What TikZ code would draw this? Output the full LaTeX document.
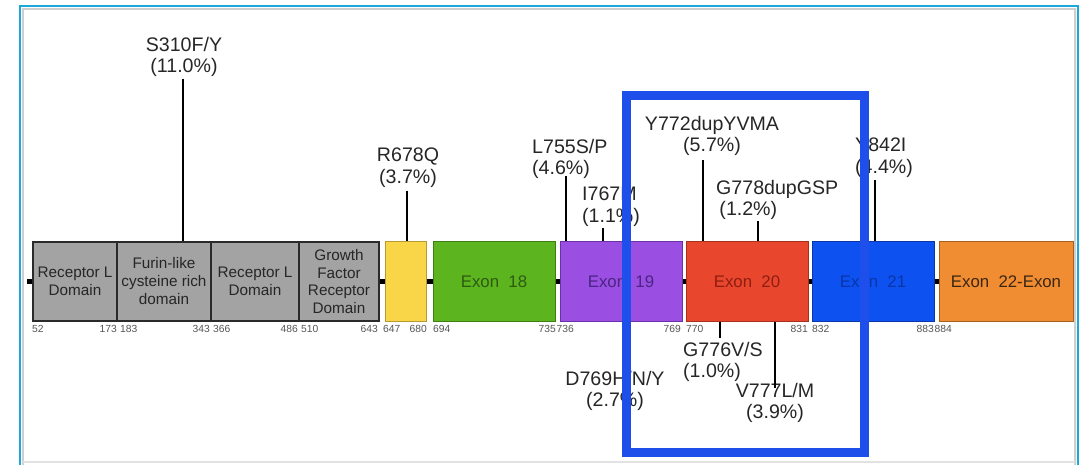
\documentclass[tikz,border=0pt]{standalone}
\usepackage{fontspec}
\setmainfont{Liberation Sans}
\definecolor{grayfill}{HTML}{A3A3A3}
\definecolor{grayedge}{HTML}{2A2A2A}
\definecolor{yelfill}{HTML}{F8D648}
\definecolor{yeledge}{HTML}{B89A30}
\definecolor{grnfill}{HTML}{5CB51E}
\definecolor{grnedge}{HTML}{3E7E12}
\definecolor{grntext}{HTML}{2E5A12}
\definecolor{purfill}{HTML}{9B4FE2}
\definecolor{puredge}{HTML}{6A30A8}
\definecolor{purtext}{HTML}{4A2484}
\definecolor{redfill}{HTML}{E9462E}
\definecolor{rededge}{HTML}{A8301E}
\definecolor{redtext}{HTML}{8E1E12}
\definecolor{blufill}{HTML}{0D52F0}
\definecolor{bluedge}{HTML}{0A36A8}
\definecolor{blutext}{HTML}{0A35A8}
\definecolor{orgfill}{HTML}{F08C32}
\definecolor{orgedge}{HTML}{A8601E}
\definecolor{orgtext}{HTML}{3C2612}
\definecolor{numtext}{HTML}{555555}
\definecolor{lbltext}{HTML}{262626}
\definecolor{hlblue}{HTML}{1E4FEA}
\definecolor{framecyan}{HTML}{1CA8D8}
\definecolor{shadowgray}{HTML}{CFCFCF}
\tikzset{
  dombox/.style={draw=grayedge, fill=grayfill, line width=1.6pt, minimum height=79pt,
    inner sep=1pt, align=center, text=lbltext, font=\fontsize{15.3}{18}\selectfont},
  exbox/.style={draw, line width=1pt, minimum height=79pt, inner sep=1pt,
    font=\fontsize{16.8}{19}\selectfont},
  backbone/.style={line width=5pt, black},
  stem/.style={line width=2.4pt, black},
  mut/.style={text=lbltext, font=\fontsize{19.6}{21.8}\selectfont, inner sep=0pt},
  num/.style={text=numtext, font=\fontsize{10.3}{11}\selectfont, inner sep=0pt},
  hlframe/.style={draw=hlblue, line width=9pt, minimum width=238pt, minimum height=356pt}
}
\begin{document}
\begin{tikzpicture}[x=1pt,y=-1pt]
\useasboundingbox (0,0) rectangle (1087,465);
% outer frame
\draw[shadowgray, line width=2pt] (23,470) -- (23,9) -- (1075,9) -- (1075,470);
\draw[shadowgray!60, line width=1.5pt] (23,462) -- (1075,462);
\draw[framecyan, line width=2pt] (20,470) -- (20,6) -- (1078,6) -- (1078,470);

% domain boxes
\node[dombox, minimum width=84pt] (d1) at (75,281.5) {Receptor L\\Domain};
\node[dombox, minimum width=94pt] (d2) at (164,281.5) {Furin-like\\cysteine rich\\domain};
\node[dombox, minimum width=88pt] (d3) at (255,281.5) {Receptor L\\Domain};
\node[dombox, minimum width=80pt, font=\fontsize{15.3}{17.5}\selectfont] (d4) at (339,281.5) {Growth\\Factor\\Receptor\\Domain};
\node[exbox, draw=yeledge, fill=yelfill, minimum width=41pt] (yel) at (405.5,281.5) {};
\node[exbox, draw=grnedge, fill=grnfill, text=grntext, minimum width=122pt] (e18) at (494,281.5) {Exon\ \ 18};
\node[exbox, draw=puredge, fill=purfill, text=purtext, minimum width=122pt] (e19) at (621,281.5) {Exon\ \ 19};
\node[exbox, draw=rededge, fill=redfill, text=redtext, minimum width=122pt] (e20) at (747,281.5) {Exon\ \ 20};
\node[exbox, draw=bluedge, fill=blufill, text=blutext, minimum width=122pt] (e21) at (873,281.5) {Exon\ \ 21};
\node[exbox, draw=orgedge, fill=orgfill, text=orgtext, minimum width=134pt] (e22) at (1006,281.5) {Exon\ \ 22-Exon};

% backbone segments
\coordinate (bbL) at (27,281.5);
\draw[backbone] (bbL) -- (d1.west);
\draw[backbone] (d4.east) -- (yel.west);
\draw[backbone] (yel.east) -- (e18.west);
\draw[backbone] (e18.east) -- (e19.west);
\draw[backbone] (e19.east) -- (e20.west);
\draw[backbone] (e20.east) -- (e21.west);
\draw[backbone] (e21.east) -- (e22.west);

% residue numbers
\node[num, anchor=north west] (n52) at (32,325) {52};
\node[num, anchor=north east] (n173) at (117,325) {173};
\node[num, anchor=north west] (n183) at (120,325) {183};
\node[num, anchor=north east] (n343) at (210,325) {343};
\node[num, anchor=north west] (n366) at (213,325) {366};
\node[num, anchor=north east] (n486) at (298,325) {486};
\node[num, anchor=north west] (n510) at (301,325) {510};
\node[num, anchor=north east] (n643) at (378,325) {643};
\node[num, anchor=north west] (n647) at (383,325) {647};
\node[num, anchor=north east] (n680) at (427,325) {680};
\node[num, anchor=north west] (n694) at (433,325) {694};
\node[num, anchor=north east] (n735) at (556,325) {735};
\node[num, anchor=north west] (n736) at (556.5,325) {736};
\node[num, anchor=north east] (n769) at (681,325) {769};
\node[num, anchor=north west] (n770) at (686,325) {770};
\node[num, anchor=north east] (n831) at (808,325) {831};
\node[num, anchor=north west] (n832) at (812,325) {832};
\node[num, anchor=north east] (n883) at (934,325) {883};
\node[num, anchor=north west] (n884) at (934.5,325) {884};

% mutation labels above
\node[mut, align=center] (m310) at (184,57) {S310F/Y\\(11.0\%)};
\node[mut, align=center] (m678) at (408,168) {R678Q\\(3.7\%)};
\node[mut, align=left, anchor=west] (m755) at (532,159) {L755S/P\\(4.6\%)};
\node[mut, align=left, anchor=west] (m767) at (582,207) {I767M\\(1.1\%)};
\node[mut, align=center] (m772) at (712,136) {Y772dupYVMA\\(5.7\%)};
\node[mut, align=left, anchor=west] (m778) at (716,200) {G778dupGSP\\\,(1.2\%)};
\node[mut, align=left, anchor=west] (m842) at (855,158) {Y842I\\(4.4\%)};
% mutation labels below
\node[mut, align=center] (m769) at (615,391) {D769H/N/Y\\(2.7\%)};
\node[mut, align=left, anchor=west] (m776) at (683,362) {G776V/S\\(1.0\%)};
\node[mut, align=center] (m777) at (775,403) {V777L/M\\(3.9\%)};

% stems
\coordinate (s310) at (183,79);
\coordinate (s678) at (407,191);
\coordinate (s755) at (566,176);
\coordinate (s767) at (603,228);
\coordinate (s772) at (703,160);
\coordinate (s778) at (758,221);
\coordinate (s842) at (875,180);
\coordinate (s776) at (720,338);
\coordinate (s777) at (775,388);
\draw[stem] (s310) -- (s310 |- d2.north);
\draw[stem] (s678) -- (s678 |- yel.north);
\draw[stem] (s755) -- (s755 |- e19.north);
\draw[stem] (s767) -- (s767 |- e19.north);
\draw[stem] (s772) -- (s772 |- e20.north);
\draw[stem] (s778) -- (s778 |- e20.north);
\draw[stem] (s842) -- (s842 |- e21.north);
\draw[stem] (s776 |- e20.south) -- (s776);
\draw[stem] (s777 |- e20.south) -- (s777);

% highlight frame
\node[hlframe] (hl) at (745,274) {};
\end{tikzpicture}
\end{document}
